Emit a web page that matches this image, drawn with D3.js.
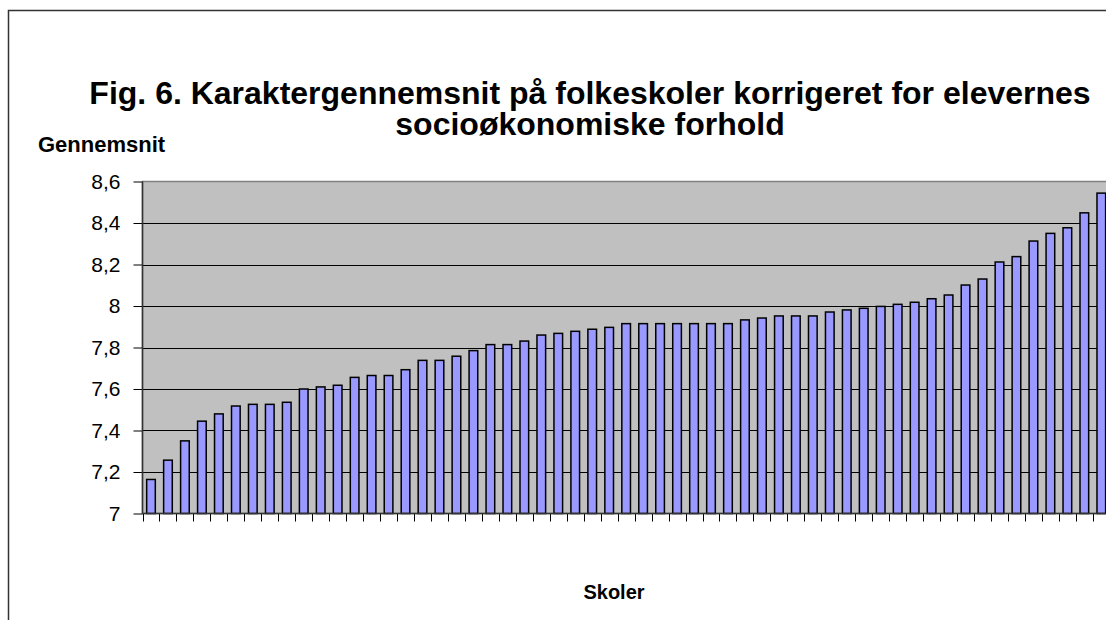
<!DOCTYPE html>
<html>
<head>
    <meta charset="utf-8">
    <style>
        body {
            margin: 0;
            background: #fff;
        }

        svg {
            display: block;
            font-family: "Liberation Sans", Arial, sans-serif;
        }

        .title {
            font-size: 32px;
            font-weight: bold;
        }

        .axis-title {
            font-size: 20px;
            font-weight: bold;
        }

        .y-title {
            font-size: 22px;
        }

        .y .tick text {
            font-size: 21px;
            fill: #000;
        }

        .domain {
            display: none;
        }

        .tick line {
            stroke: #000;
        }
    </style>
</head>

<body>
    <svg width="1106" height="620"></svg>
</body>

<script src="https://d3js.org/d3.v7.min.js"></script>

<script>
    // karaktergennemsnit pr. skole, sorteret (57 skoler)
    let values = [
        7.164, 7.257, 7.35, 7.445, 7.48, 7.518, 7.526, 7.526, 7.536, 7.60,
        7.61, 7.618, 7.656, 7.665, 7.665, 7.693, 7.738, 7.738, 7.758, 7.785,
        7.814, 7.814, 7.831, 7.86, 7.868, 7.878, 7.888, 7.897, 7.915, 7.915,
        7.915, 7.915, 7.915, 7.915, 7.915, 7.933, 7.942, 7.952, 7.952, 7.952,
        7.971, 7.981, 7.989, 7.998, 8.008, 8.018, 8.035, 8.053, 8.101, 8.13,
        8.212, 8.238, 8.313, 8.35, 8.377, 8.449, 8.544
    ]

    let yTicks = [7, 7.2, 7.4, 7.6, 7.8, 8, 8.2, 8.4, 8.6]
    let titleLines = [
        "Fig. 6. Karaktergennemsnit på folkeskoler korrigeret for elevernes",
        "socioøkonomiske forhold"
    ]

    let svg = d3.select("svg")

    let plot = { left: 142.5, top: 181.5, bottom: 513.5, step: 16.97 }
    let plotRight = plot.left + plot.step * values.length

    // yderramme
    svg.append("rect")
        .attr("x", 8.5)
        .attr("y", 10.5)
        .attr("width", 1200)
        .attr("height", 700)
        .attr("fill", "none")
        .attr("stroke", "#333")
        .attr("stroke-width", 1.5)

    let x = d3.scaleBand()
        .domain(d3.range(values.length))
        .range([plot.left, plotRight])
        .paddingInner(0.49)
        .paddingOuter(0.245)

    let y = d3.scaleLinear()
        .domain([7, 8.6])
        .range([plot.bottom, plot.top])

    svg.append("rect")
        .attr("x", plot.left)
        .attr("y", plot.top)
        .attr("width", plotRight - plot.left)
        .attr("height", plot.bottom - plot.top)
        .attr("fill", "#c0c0c0")
        .attr("stroke", "#808080")
        .attr("stroke-width", 1.5)

    // gitterlinjer
    svg.append("g")
        .selectAll("line")
        .data(yTicks.slice(1, -1))
        .join("line")
        .attr("x1", plot.left)
        .attr("x2", plotRight)
        .attr("y1", d => Math.round(y(d)) + 0.5)
        .attr("y2", d => Math.round(y(d)) + 0.5)
        .attr("stroke", "#000")

    svg.append("g")
        .selectAll("rect")
        .data(values)
        .join("rect")
        .attr("x", (d, i) => x(i))
        .attr("y", d => y(d))
        .attr("width", x.bandwidth())
        .attr("height", d => plot.bottom - y(d))
        .attr("fill", "#9999ff")
        .attr("stroke", "#000")
        .attr("stroke-width", 1.5)

    // y-akse
    svg.append("g")
        .attr("class", "y axis")
        .attr("transform", `translate(${plot.left},0)`)
        .call(d3.axisLeft(y)
            .tickValues(yTicks)
            .tickSize(9)
            .tickPadding(13)
            .tickFormat(d => String(d).replace(".", ",")))

    svg.append("line")
        .attr("x1", plot.left)
        .attr("x2", plot.left)
        .attr("y1", plot.top)
        .attr("y2", plot.bottom)
        .attr("stroke", "#333")
        .attr("stroke-width", 1.5)

    // x-akse med streger mellem kategorierne
    let xEdges = d3.range(values.length + 1).map(i => plot.left + i * plot.step)
    svg.append("g")
        .selectAll("line")
        .data(xEdges)
        .join("line")
        .attr("x1", d => Math.round(d) + 0.5)
        .attr("x2", d => Math.round(d) + 0.5)
        .attr("y1", plot.bottom)
        .attr("y2", plot.bottom + 8)
        .attr("stroke", "#000")

    svg.append("line")
        .attr("x1", plot.left)
        .attr("x2", plotRight)
        .attr("y1", plot.bottom)
        .attr("y2", plot.bottom)
        .attr("stroke", "#333")
        .attr("stroke-width", 1.5)

    svg.append("g")
        .selectAll("text")
        .data(titleLines)
        .join("text")
        .attr("class", "title")
        .attr("x", 590)
        .attr("y", (d, i) => 104 + i * 31)
        .attr("text-anchor", "middle")
        .text(d => d)

    svg.append("text")
        .attr("class", "axis-title y-title")
        .attr("x", 38)
        .attr("y", 152)
        .text("Gennemsnit")

    svg.append("text")
        .attr("class", "axis-title")
        .attr("x", 614)
        .attr("y", 599)
        .attr("text-anchor", "middle")
        .text("Skoler")
</script>
</html>
